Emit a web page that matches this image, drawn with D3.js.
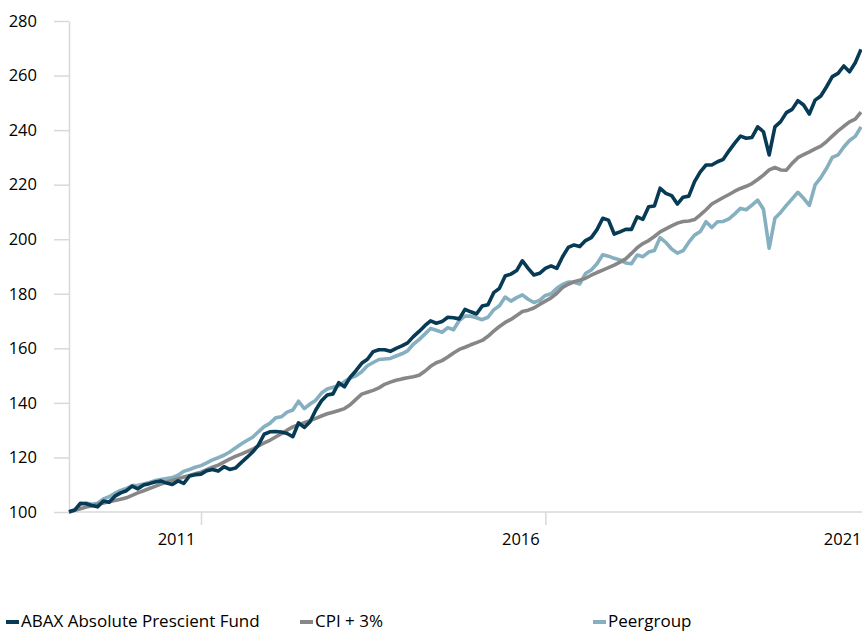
<!DOCTYPE html>
<html>
<head>
<meta charset="utf-8">
<script src="https://cdn.jsdelivr.net/npm/d3@7"></script>
<style>
	body { margin: 0; background: #fff; }
	text { font-family: "Open Sans", "Liberation Sans", sans-serif; fill: #000; }
</style>
</head>
<body>
<div id="chart"></div>
<script>
// month index from start of the series, 139 monthly points
var months = d3.range(0, 139);

var fund = [
	100.1, 100.7, 103.2, 103.0, 102.4, 101.9, 104.0, 103.6, 105.8, 107.0,
	107.8, 109.5, 108.5, 109.9, 110.4, 111.0, 111.4, 110.6, 110.1, 111.4,
	110.5, 113.2, 113.7, 113.9, 115.1, 115.6, 115.0, 116.6, 115.6, 116.1,
	118.1, 120.0, 122.0, 124.5, 128.5, 129.4, 129.5, 129.3, 128.8, 127.6,
	132.7, 131.0, 133.1, 137.4, 140.8, 142.9, 143.3, 147.4, 145.9, 149.4,
	151.8, 154.5, 156.0, 158.8, 159.5, 159.5, 158.9, 160.0, 160.9, 162.0,
	164.3, 166.2, 168.3, 170.1, 169.2, 169.8, 171.4, 171.2, 170.8, 174.3,
	173.4, 172.6, 175.5, 176.0, 180.4, 182.0, 186.5, 187.2, 188.5, 192.1,
	189.3, 186.9, 187.5, 189.3, 190.2, 189.3, 193.6, 197.0, 197.9, 197.3,
	199.5, 200.6, 203.5, 207.7, 207.0, 201.9, 202.7, 203.6, 203.6, 208.2,
	207.3, 211.9, 212.2, 218.7, 216.8, 216.0, 212.9, 215.4, 215.8, 221.1,
	224.7, 227.2, 227.2, 228.4, 229.3, 232.4, 235.2, 237.8, 237.0, 237.3,
	241.2, 239.4, 230.9, 241.2, 243.1, 246.4, 247.6, 250.8, 249.2, 245.9,
	251.0, 252.5, 255.9, 259.6, 260.8, 263.5, 261.4, 264.7, 269.6
];

var cpi = [
	100.0, 100.6, 101.2, 101.8, 102.3, 102.8, 103.3, 103.8, 104.2, 104.7,
	105.2, 106.1, 107.0, 107.8, 108.6, 109.4, 110.2, 111.0, 111.6, 112.2,
	112.8, 113.4, 114.0, 114.6, 115.5, 116.4, 117.2, 118.3, 119.4, 120.4,
	121.2, 122.1, 123.0, 124.2, 125.3, 126.3, 127.5, 128.7, 130.0, 131.2,
	132.0, 132.7, 133.5, 134.3, 135.2, 136.0, 136.6, 137.2, 137.9, 139.3,
	141.3, 143.2, 143.9, 144.6, 145.5, 146.8, 147.6, 148.3, 148.8, 149.2,
	149.6, 150.1, 151.6, 153.4, 154.7, 155.5, 156.8, 158.3, 159.6, 160.4,
	161.3, 162.1, 162.9, 164.4, 166.3, 168.0, 169.5, 170.6, 172.0, 173.5,
	174.0, 174.8, 176.1, 177.3, 178.5, 180.2, 182.3, 183.5, 184.4, 185.0,
	185.7, 186.8, 187.8, 188.7, 189.6, 190.5, 191.6, 192.8, 194.8, 196.9,
	198.4, 199.5, 201.0, 202.7, 203.8, 204.9, 205.9, 206.5, 206.7, 207.2,
	208.9, 210.8, 212.9, 214.1, 215.3, 216.4, 217.6, 218.6, 219.4, 220.4,
	221.9, 223.5, 225.4, 226.3, 225.4, 225.3, 227.8, 229.9, 231.0, 232.0,
	233.1, 234.1, 235.8, 237.8, 239.7, 241.4, 243.0, 244.0, 246.6
];

var peer = [
	100.0, 100.8, 102.8, 103.3, 102.8, 103.2, 104.8, 105.6, 106.9, 107.9,
	108.6, 109.7, 109.8, 110.3, 110.8, 111.5, 111.9, 112.3, 112.6, 113.5,
	114.9, 115.6, 116.4, 117.0, 118.0, 119.1, 119.9, 120.8, 122.0, 123.5,
	124.9, 126.2, 127.4, 129.4, 131.3, 132.5, 134.5, 134.9, 136.6, 137.4,
	140.6, 137.9, 139.6, 141.0, 143.6, 145.1, 145.7, 146.3, 147.8, 149.1,
	149.9, 151.4, 153.6, 154.8, 155.9, 156.1, 156.3, 157.2, 158.0, 159.1,
	161.5, 163.2, 165.2, 167.3, 166.6, 165.9, 167.6, 166.8, 170.2, 171.8,
	171.8, 171.2, 170.5, 171.4, 174.1, 175.6, 178.8, 177.3, 178.6, 179.6,
	178.0, 176.8, 177.6, 179.4, 180.0, 182.0, 183.4, 184.3, 184.2, 183.6,
	187.4, 188.7, 191.0, 194.3, 193.8, 193.0, 192.4, 191.3, 191.0, 194.2,
	193.6, 195.3, 195.9, 200.6, 198.8, 196.4, 194.9, 195.8, 198.9, 201.5,
	202.8, 206.4, 204.3, 206.4, 206.5, 207.5, 209.3, 211.3, 210.8, 212.5,
	214.3, 211.0, 196.7, 207.7, 209.8, 212.4, 214.8, 217.2, 215.0, 212.4,
	219.9, 222.6, 226.0, 230.0, 230.9, 233.8, 236.2, 237.7, 241.2
];

var seriesNames = ["ABAX Absolute Prescient Fund", "CPI + 3%", "Peergroup"];
var seriesColors = ["#063a55", "#878787", "#86afc0"];

var yTicks = [100, 120, 140, 160, 180, 200, 220, 240, 260, 280];
var xTickMonths = [23, 83, 143];
var xTickLabels = ["2011", "2016", "2021"];

var width = 862;
var height = 632;

var svg = d3.select("#chart")
	.append("svg")
		.attr("width", width)
		.attr("height", height);

var x = d3.scaleLinear()
	.domain([0, 138])
	.range([69, 861]);

var y = d3.scaleLinear()
	.domain([100, 280])
	.range([512, 21]);

// y axis
var yAxis = svg.append("g")
	.attr("transform", "translate(69,0)")
	.call(d3.axisLeft(y)
		.tickValues(yTicks)
		.tickSize(15)
		.tickSizeOuter(0)
		.tickPadding(17));
yAxis.selectAll("path, line").attr("stroke", "#d9d9d9").attr("stroke-width", 1.5);
yAxis.selectAll("text").style("font-size", "16.5px").attr("fill", "#000");

// x axis, labels sit left of their tick as in the original
var xAxis = svg.append("g")
	.attr("transform", "translate(0,512)")
	.call(d3.axisBottom(x)
		.tickValues(xTickMonths)
		.tickFormat(function(d, i) { return xTickLabels[i]; })
		.tickSize(13)
		.tickSizeOuter(0)
		.tickPadding(8));
xAxis.select(".domain").attr("d", "M69,0H862");
xAxis.selectAll("path, line").attr("stroke", "#d9d9d9").attr("stroke-width", 1.5);
xAxis.selectAll("text")
	.style("font-size", "16.5px")
	.attr("fill", "#000")
	.attr("x", function(d) {
		var w = this.getComputedTextLength();
		var cx = x(d) - 25;
		if (cx + w / 2 > 861) cx = 861 - w / 2;
		return cx - x(d);
	});

var line = d3.line()
	.x(function(d, i) { return x(months[i]); })
	.y(function(d) { return y(d); });

// draw peer first, fund on top
var order = [2, 1, 0];
var allSeries = [fund, cpi, peer];
order.forEach(function(k) {
	svg.append("path")
		.datum(allSeries[k])
		.attr("fill", "none")
		.attr("stroke", seriesColors[k])
		.attr("stroke-width", 3.6)
		.attr("stroke-linejoin", "round")
		.attr("d", line);
});

// legend
var legendX = [6, 300, 593];
var legend = svg.selectAll(".legend")
	.data(seriesNames)
	.enter()
	.append("g")
		.attr("class", "legend")
		.attr("transform", function(d, i) { return "translate(" + legendX[i] + ",622)"; });
legend.append("line")
	.attr("x1", 0)
	.attr("x2", 13)
	.attr("stroke", function(d, i) { return seriesColors[i]; })
	.attr("stroke-width", 4);
legend.append("text")
	.attr("x", 15)
	.attr("y", 5)
	.style("font-size", "17px")
	.text(function(d) { return d; });
</script>
</body>
</html>
